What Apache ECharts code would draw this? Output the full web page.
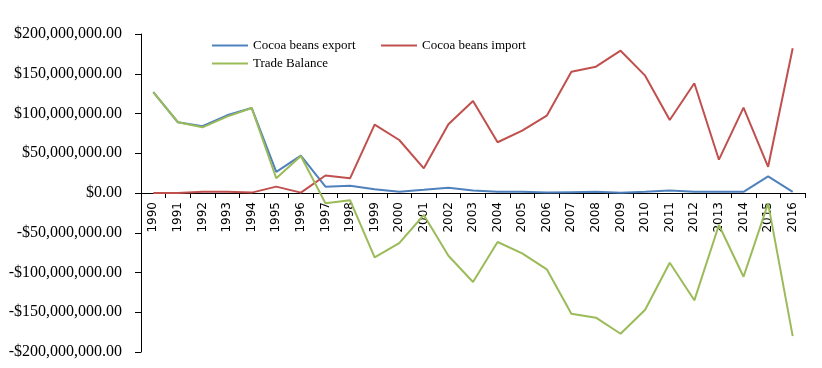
<!DOCTYPE html>
<html>
<head>
<meta charset="utf-8">
<script src="https://cdn.jsdelivr.net/npm/echarts@6/dist/echarts.min.js"></script>
<style>
html,body{margin:0;padding:0;background:#fff;}
#chart{width:822px;height:368px;}
</style>
</head>
<body>
<div id="chart"></div>
<script>
var years = ['1990','1991','1992','1993','1994','1995','1996','1997','1998','1999','2000','2001','2002','2003','2004','2005','2006','2007','2008','2009','2010','2011','2012','2013','2014','2015','2016'];
// values in millions of dollars
var exportM = [127, 89, 84, 97.7, 107, 26.5, 47, 8, 9, 4.6, 1.6, 4, 6.7, 3, 1.5, 1.5, 0.5, 1, 1.5, 0.3, 1.5, 3, 1.5, 1.5, 1.5, 21, 1.5];
var importM = [0, 0, 1.5, 1.5, 0.5, 8, 0.5, 22, 18.5, 86, 66.7, 31, 86.4, 115.7, 63.8, 78.4, 97.3, 152.6, 158.9, 179, 147.6, 91.8, 138, 41.9, 107.3, 33, 182];
var balanceM = [127, 89, 82.6, 96, 107, 18.5, 46.5, -13, -9, -81, -63, -27.7, -79, -112, -61.6, -76, -96, -151.8, -156.8, -177, -146.8, -87.7, -135, -40.3, -105.3, -13, -180];
var yTicks = [-200000000, -150000000, -100000000, -50000000, 0, 50000000, 100000000, 150000000, 200000000];

function toDollars(arr){ return arr.map(function(v){ return v * 1000000; }); }
function fmt(v){
  var neg = v < 0;
  var a = Math.abs(v);
  var s = a.toFixed(2);
  var parts = s.split('.');
  parts[0] = parts[0].replace(/\B(?=(\d{3})+(?!\d))/g, ',');
  return (neg ? '-$' : '$') + parts[0] + '.' + parts[1];
}

var gridTop = 34, gridBottom = 16, H = 368;
var plotH = H - gridTop - gridBottom;
// the zero line sits where 0 falls on the y scale
var yMin = yTicks[0], yMax = yTicks[yTicks.length - 1];
var zeroOffset = -plotH * (0 - yMin) / (yMax - yMin);

var chart = echarts.init(document.getElementById('chart'));
var legendText = {fontFamily: '"Liberation Serif", "Times New Roman", serif', fontSize: 13, color: '#000'};
var legendBase = {icon: 'rect', itemWidth: 36, itemHeight: 2, itemGap: 5, padding: 0, textStyle: legendText, selectedMode: false};
chart.setOption({
  animation: false,
  backgroundColor: '#fff',
  legend: [
    Object.assign({data: ['Cocoa beans export'], left: 212, top: 39}, legendBase),
    Object.assign({data: ['Cocoa beans import'], left: 381, top: 39}, legendBase),
    Object.assign({data: ['Trade Balance'], left: 212, top: 57}, legendBase)
  ],
  grid: {left: 141, right: 17, top: gridTop, bottom: gridBottom, containLabel: false, outerBoundsMode: 'none'},
  xAxis: [{
    type: 'category',
    data: years,
    boundaryGap: true,
    position: 'bottom',
    offset: zeroOffset,
    z: 0,
    axisLine: {onZero: false, lineStyle: {color: '#000', width: 1}},
    axisTick: {show: true, length: 5, inside: false, alignWithLabel: false, lineStyle: {color: '#000'}},
    axisLabel: {rotate: 90, margin: 9, interval: 0, fontFamily: '"DejaVu Sans", sans-serif', fontSize: 12, color: '#000'},
    splitLine: {show: false}
  }],
  yAxis: {
    type: 'value',
    min: yMin,
    max: yMax,
    interval: 50000000,
    axisLine: {show: true, lineStyle: {color: '#000', width: 1}},
    axisTick: {show: true, length: 6, lineStyle: {color: '#000'}},
    axisLabel: {margin: 19, formatter: fmt, fontFamily: '"Liberation Serif", "Times New Roman", serif', fontSize: 16, color: '#000'},
    splitLine: {show: false}
  },
  series: [
    {name: 'Cocoa beans export', type: 'line', z: 5, data: toDollars(exportM), symbol: 'none', color: '#4F81BD', lineStyle: {width: 2, color: '#4F81BD'}},
    {name: 'Cocoa beans import', type: 'line', z: 5, data: toDollars(importM), symbol: 'none', color: '#C0504D', lineStyle: {width: 2, color: '#C0504D'}},
    {name: 'Trade Balance', type: 'line', z: 5, data: toDollars(balanceM), symbol: 'none', color: '#9BBB59', lineStyle: {width: 2, color: '#9BBB59'}}
  ]
});
</script>
</body>
</html>
